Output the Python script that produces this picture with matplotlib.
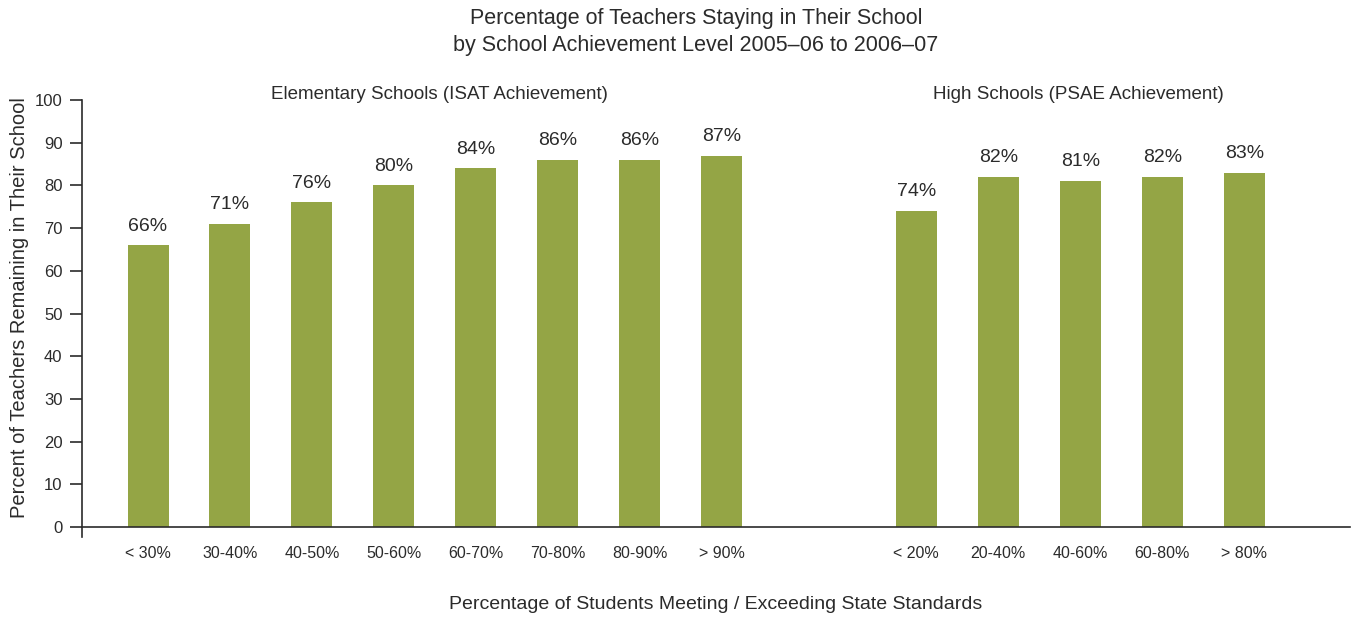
import matplotlib.pyplot as plt
import numpy as np

plt.rcParams['font.family'] = ['Liberation Sans', 'DejaVu Sans']

elem_labels = ["< 30%", "30-40%", "40-50%", "50-60%", "60-70%", "70-80%", "80-90%", "> 90%"]
elem_values = [66, 71, 76, 80, 84, 86, 86, 87]
high_labels = ["< 20%", "20-40%", "40-60%", "60-80%", "> 80%"]
high_values = [74, 82, 81, 82, 83]

bar_color = "#94a545"
text_color = "#2b2b2b"

fig = plt.figure(figsize=(13.53, 6.17), dpi=100)
ax = fig.add_axes([82 / 1353, 1 - 527 / 617, (1350 - 82) / 1353, 427 / 617])

x_elem = np.arange(len(elem_values))
x_high = np.arange(len(high_values)) + 9.37
ax.bar(x_elem, elem_values, width=0.5, color=bar_color)
ax.bar(x_high, high_values, width=0.5, color=bar_color)

for x, v in zip(np.concatenate([x_elem, x_high]), elem_values + high_values):
    ax.text(x, v + 2.5, f"{v}%", ha="center", va="bottom", fontsize=14, color=text_color)

ax.set_xlim(-0.805, 14.66)
ax.set_ylim(0, 100)
ax.set_yticks(range(0, 101, 10))
ax.set_xticks(np.concatenate([x_elem, x_high]))
ax.set_xticklabels(elem_labels + high_labels, fontsize=11.5, color=text_color)
ax.tick_params(axis="x", length=0, pad=14)
ax.tick_params(axis="y", length=9, width=1.2, color=text_color, labelsize=12, labelcolor=text_color, pad=5)
for s in ["top", "right"]:
    ax.spines[s].set_visible(False)
ax.spines["left"].set_color(text_color)
ax.spines["bottom"].set_color(text_color)
ax.spines["left"].set_linewidth(1.2)
ax.spines["bottom"].set_linewidth(1.2)
ax.spines["left"].set_bounds(-2.4, 100)
ax.spines["left"].set_clip_on(False)

ax.set_ylabel("Percent of Teachers Remaining in Their School", fontsize=14.5, color=text_color)
ax.yaxis.set_label_coords(-0.042, 0.515)
ax.set_xlabel("Percentage of Students Meeting / Exceeding State Standards", fontsize=14, color=text_color, labelpad=25)

ax.text(3.55, 101.2, "Elementary Schools (ISAT Achievement)", ha="center", va="center", fontsize=13.5, color=text_color)
ax.text(11.35, 101.2, "High Schools (PSAE Achievement)", ha="center", va="center", fontsize=13.5, color=text_color)

fig.text(696 / 1353, 1 - 32 / 617, "Percentage of Teachers Staying in Their School\nby School Achievement Level 2005\u201306 to 2006\u201307",
         ha="center", va="center", fontsize=15.5, color=text_color, linespacing=1.4)

fig.savefig("out.png", dpi=100)
